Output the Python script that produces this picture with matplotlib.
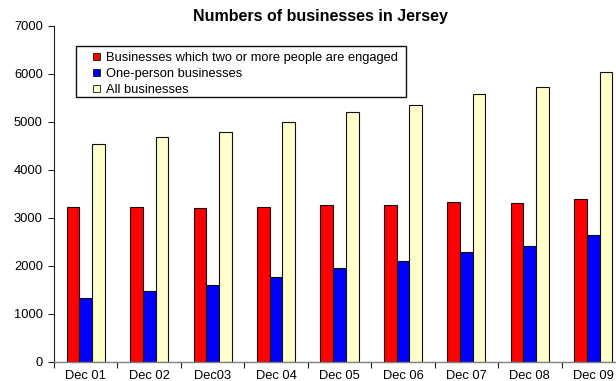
import numpy as np
import matplotlib.pyplot as plt
from matplotlib.patches import Patch, Rectangle

plt.rcParams['font.family'] = ['Liberation Sans', 'DejaVu Sans']

years = ["Dec 01", "Dec 02", "Dec03", "Dec 04", "Dec 05",
         "Dec 06", "Dec 07", "Dec 08", "Dec 09"]
multi_person = [3225, 3225, 3200, 3225, 3265, 3265, 3335, 3320, 3405]
one_person = [1330, 1475, 1610, 1780, 1955, 2105, 2290, 2420, 2655]
all_businesses = [4545, 4690, 4795, 4995, 5205, 5350, 5580, 5725, 6045]

labels = ["Businesses which two or more people are engaged",
          "One-person businesses",
          "All businesses"]
colors = ["#ff0000", "#0000ff", "#ffffcc"]

W, H = 616, 381
fig = plt.figure(figsize=(W / 100, H / 100), dpi=100)
ax = fig.add_axes([54 / W, (H - 362) / H, 571 / W, 336 / H])

x = np.arange(len(years))
bw = 0.2
for i, (vals, c) in enumerate(zip([multi_person, one_person, all_businesses], colors)):
    ax.bar(x + (i - 1) * bw, vals, bw, color=c, edgecolor='#111111', linewidth=0.8)

ax.set_xlim(-0.5, len(years) - 0.5)
ax.set_ylim(0, 7000)
ax.set_yticks(np.arange(0, 7001, 1000))
ax.tick_params(axis='y', direction='out', length=4, width=0.8, pad=4,
               labelsize=9.3, color='#222222')

ax.set_xticks(x)
ax.set_xticklabels(years)
ax.tick_params(axis='x', which='major', length=0, pad=6, labelsize=9.3)
ax.set_xticks(np.arange(-0.5, len(years), 1.0), minor=True)
ax.tick_params(axis='x', which='minor', direction='out', length=4, width=0.8,
               color='#222222')

for s in ['top', 'right']:
    ax.spines[s].set_visible(False)
ax.spines['left'].set_color('#222222')
ax.spines['left'].set_linewidth(0.8)
ax.spines['bottom'].set_color('#808080')
ax.spines['bottom'].set_linewidth(1.0)

fig.text(320 / W, 1 - 17 / H, "Numbers of businesses in Jersey",
         ha='center', va='center', fontsize=11.5, fontweight='bold')

# legend box drawn separately so the left padding can be wider
fig.patches.append(Rectangle((76 / W, 1 - 97 / H), 330 / W, 51 / H,
                             transform=fig.transFigure, facecolor='white',
                             edgecolor='#111111', linewidth=1.0, zorder=5))
handles = [Patch(facecolor=c, edgecolor='#111111', linewidth=0.6) for c in colors]
leg = fig.legend(handles, labels, loc='upper left',
                 bbox_to_anchor=(87 / W, 1 - 46 / H), frameon=False,
                 fontsize=9.3, borderpad=0, labelspacing=0.28,
                 handlelength=0.47, handleheight=0.47, handletextpad=0.5)
leg.set_zorder(6)

fig.savefig("out.png", dpi=100)
